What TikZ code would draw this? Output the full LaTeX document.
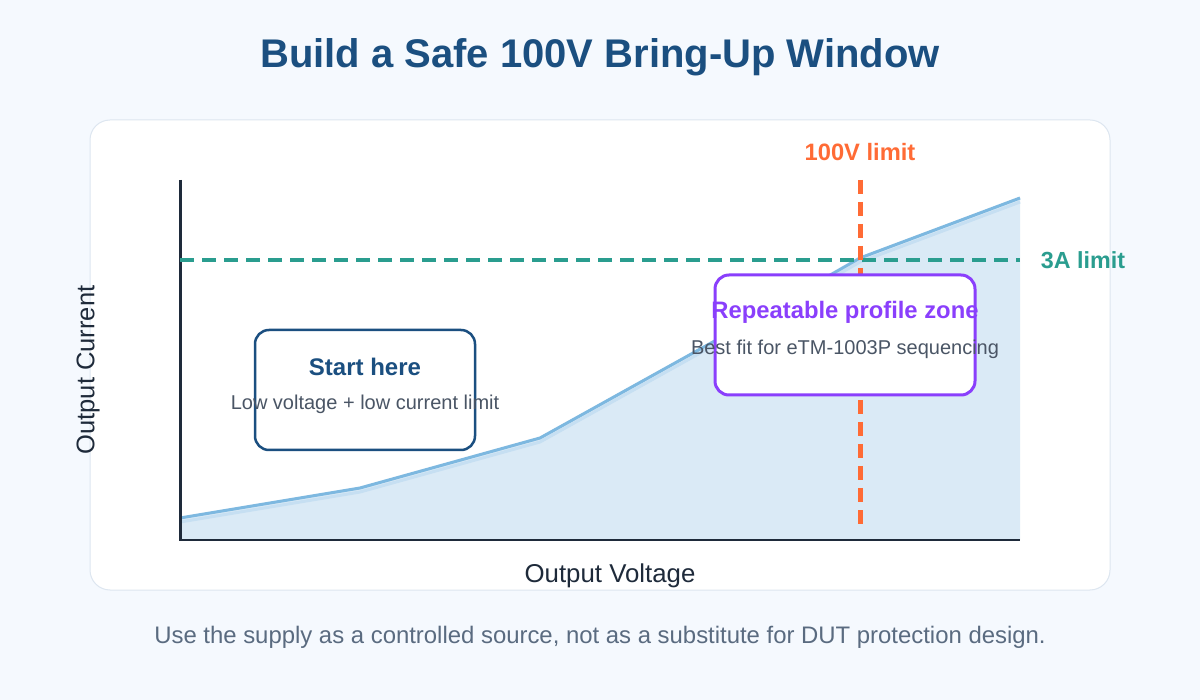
\documentclass[tikz,border=0pt]{standalone}
\usepackage{fontspec}
\setmainfont{Liberation Sans}
\definecolor{bg}{HTML}{F5F9FE}
\definecolor{cardb}{HTML}{DDE6F0}
\definecolor{navy}{HTML}{1B4F80}
\definecolor{axis}{HTML}{1E2A3A}
\definecolor{areaf}{HTML}{DAEAF6}
\definecolor{curve}{HTML}{7DB8E0}
\definecolor{curve2}{HTML}{C6DFF2}
\definecolor{grn}{HTML}{2A9D8F}
\definecolor{org}{HTML}{FF6B35}
\definecolor{purp}{HTML}{8A3FFC}
\definecolor{txt}{HTML}{4A5565}
\definecolor{foot}{HTML}{5A6B80}
\begin{document}
\begin{tikzpicture}[x=1pt,y=-1pt,
  lbl/.style={inner sep=0pt,anchor=center},
  zone/.style={rounded corners=14pt,line width=2.5pt}]
\useasboundingbox (0,0) rectangle (1200,700);
\fill[bg] (0,0) rectangle (1200,700);
\node[lbl,text=navy,font=\bfseries\fontsize{40}{44}\selectfont] (title) at (600,57) {Build a Safe 100V Bring-Up Window};
\draw[cardb,fill=white,line width=1pt,rounded corners=20pt] (90,120) rectangle (1110,590);
% area
\fill[areaf] (180,518) -- (360,488) -- (540,438) -- (720,338) -- (860,258) -- (1020,198) -- (1020,540) -- (180,540) -- cycle;
\draw[curve2,line width=3pt] (180,522) -- (360,492) -- (540,442) -- (720,342) -- (860,262) -- (1020,202);
\draw[curve,line width=3pt,line join=round] (180,518) -- (360,488) -- (540,438) -- (720,338) -- (860,258) -- (1020,198);
% axes
\draw[axis,line width=3pt] (180,180) -- (180,541);
\draw[axis,line width=2pt] (179,540) -- (1020,540);
% limits
\draw[grn,line width=4pt,dash pattern=on 14pt off 8pt] (180,260) -- (1020,260);
\node[lbl,text=grn,font=\bfseries\fontsize{23.3}{26}\selectfont] (alim) at (1083,260) {3A limit};
\draw[org,line width=5pt,dash pattern=on 14pt off 8pt] (860,180) -- (860,530);
\node[lbl,text=org,font=\bfseries\fontsize{23.7}{26}\selectfont] (vlim) at (860,152) {100V limit};
% boxes
\draw[zone,draw=navy,fill=white] (255,330) rectangle (475,450);
\node[lbl,text=navy,font=\bfseries\fontsize{24}{28}\selectfont] (start) at (365,367) {Start here};
\node[lbl,text=txt,font=\fontsize{20}{24}\selectfont] (startd) at (365,404) {Low voltage + low current limit};
\draw[zone,draw=purp,fill=white,line width=3pt] (715,275) rectangle (975,395);
\node[lbl,text=purp,font=\bfseries\fontsize{23.8}{28}\selectfont] (rep) at (845,312) {Repeatable profile zone};
\node[lbl,text=txt,font=\fontsize{20}{24}\selectfont] (repd) at (845,349) {Best fit for eTM-1003P sequencing};
% axis labels
\node[lbl,text=axis,rotate=90,font=\fontsize{25.5}{30}\selectfont] (yl) at (88,370) {Output Current};
\node[lbl,text=axis,font=\fontsize{25.8}{30}\selectfont] (xl) at (610,576) {Output Voltage};
\node[lbl,text=foot,font=\fontsize{23.9}{28}\selectfont] (ft) at (600,637) {Use the supply as a controlled source, not as a substitute for DUT protection design.};
\end{tikzpicture}
\end{document}
